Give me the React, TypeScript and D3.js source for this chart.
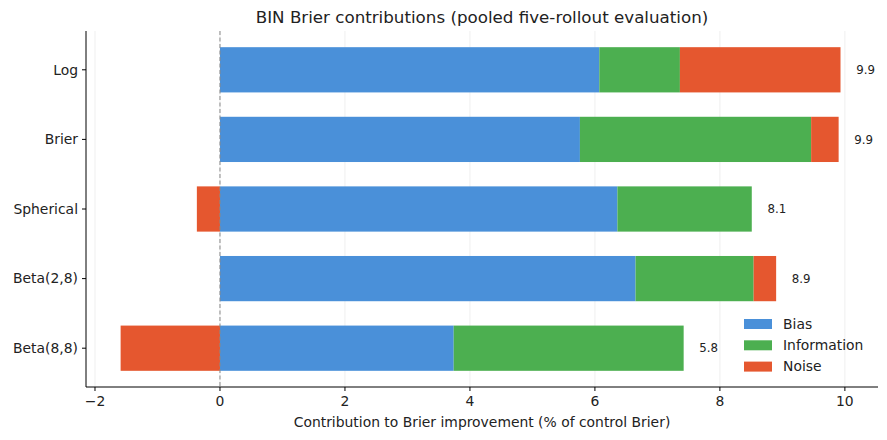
import * as d3 from "d3"

const categories = ["Log", "Brier", "Spherical", "Beta(2,8)", "Beta(8,8)"]
const bias = [6.07, 5.76, 6.36, 6.65, 3.74]
const information = [1.29, 3.7, 2.15, 1.89, 3.68]
const noise = [2.57, 0.44, -0.37, 0.36, -1.59]
const xTicks = [-2, 0, 2, 4, 6, 8, 10]

const seriesNames = ["Bias", "Information", "Noise"]
const colors = ["#4a90d9", "#4caf50", "#e5572f"]

const W = 887
const H = 440
const M = { top: 31, right: 9, bottom: 53, left: 86 }
const FONT = "DejaVu Sans, sans-serif"

const App = () => {
  const x = d3.scaleLinear().domain([-2.144, 10.53]).range([M.left, W - M.right])
  const y = d3
    .scaleLinear()
    .domain([-0.5575, 4.5575])
    .range([M.top, H - M.bottom])
  const barH = y(0.65) - y(0)

  // stack positives rightwards from 0, negatives leftwards from 0
  const rows = categories.map((cat, i) => {
    const vals = [bias[i], information[i], noise[i]]
    let pos = 0
    let neg = 0
    const segs = vals.map((v, k) => {
      let x0, x1
      if (v >= 0) {
        x0 = pos
        x1 = pos + v
        pos = x1
      } else {
        x0 = neg + v
        x1 = neg
        neg = x0
      }
      return { k, x0, x1 }
    })
    const total = vals.reduce((a, b) => a + b, 0)
    return { cat, i, segs, pos, total }
  })

  const bottom = H - M.bottom

  return (
    <svg width={W} height={H} style={{ display: "block", margin: -8, fontFamily: FONT }}>
      <rect width={W} height={H} fill="#fff" />
      {/* grid */}
      {xTicks.map((t) => (
        <line key={t} x1={x(t)} x2={x(t)} y1={M.top} y2={bottom} stroke="#ebebeb" strokeWidth={0.8} />
      ))}
      {/* bars */}
      {rows.map((r) =>
        r.segs.map((s) => (
          <rect
            key={r.cat + s.k}
            x={x(s.x0)}
            width={x(s.x1) - x(s.x0)}
            y={y(r.i) - barH / 2}
            height={barH}
            fill={colors[s.k]}
          />
        )),
      )}
      {/* zero line */}
      <line x1={x(0)} x2={x(0)} y1={M.top} y2={bottom} stroke="#888" strokeWidth={1} strokeDasharray="4,2.5" />
      {/* totals */}
      {rows.map((r) => (
        <text key={r.cat} x={x(r.pos + 0.25)} y={y(r.i)} dy="0.35em" fontSize={11.8} fill="#222">
          {r.total.toFixed(1)}
        </text>
      ))}
      {/* axes */}
      <line x1={M.left} x2={M.left} y1={M.top} y2={bottom} stroke="#000" strokeWidth={1} />
      <line x1={M.left} x2={W - M.right} y1={bottom} y2={bottom} stroke="#000" strokeWidth={1} />
      {xTicks.map((t) => (
        <g key={t}>
          <line x1={x(t)} x2={x(t)} y1={bottom} y2={bottom + 4} stroke="#000" />
          <text x={x(t)} y={bottom + 19} textAnchor="middle" fontSize={13.9} fill="#222">
            {t < 0 ? "\u2212" + Math.abs(t) : t}
          </text>
        </g>
      ))}
      {categories.map((c, i) => (
        <g key={c}>
          <line x1={M.left - 4} x2={M.left} y1={y(i)} y2={y(i)} stroke="#000" />
          <text x={M.left - 8} y={y(i)} dy="0.35em" textAnchor="end" fontSize={13.9} fill="#222">
            {c}
          </text>
        </g>
      ))}
      <text x={(M.left + W - M.right) / 2} y={427} textAnchor="middle" fontSize={13.9} fill="#222">
        Contribution to Brier improvement (% of control Brier)
      </text>
      <text x={(M.left + W - M.right) / 2} y={23} textAnchor="middle" fontSize={16.7} fill="#222">
        BIN Brier contributions (pooled five-rollout evaluation)
      </text>
      {/* legend */}
      {seriesNames.map((n, k) => (
        <g key={n} transform={`translate(744, ${319 + k * 21.3})`}>
          <rect width={28} height={10} fill={colors[k]} />
          <text x={39} y={5} dy="0.35em" fontSize={13.9} fill="#222">
            {n}
          </text>
        </g>
      ))}
    </svg>
  )
}

export default App
